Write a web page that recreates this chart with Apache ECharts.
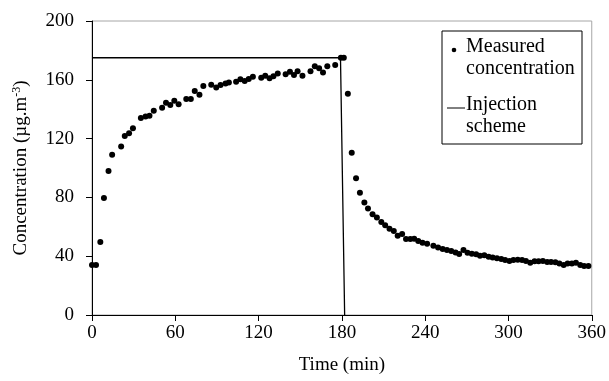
<!DOCTYPE html>
<html>
<head>
<meta charset="utf-8">
<script src="https://cdn.jsdelivr.net/npm/echarts@6/dist/echarts.min.js"></script>
<style>
  html, body { margin: 0; padding: 0; background: #fff; }
  #chart { width: 609px; height: 381px; }
</style>
</head>
<body>
<div id="chart"></div>
<script>
  // measured concentration, time in min
  var measuredTime = [0, 2.9, 6, 8.6, 11.9, 14.5, 21, 23.6, 26.7, 29.5, 35.2, 38.6, 41.4, 44.5, 50.5, 53.3, 56.4, 59.3, 62.4, 67.9,
    71.2, 74, 77.4, 80.2, 85.9, 89.5, 92.6, 96.2, 98.6, 103.8, 106.9, 110, 112.9, 115.9, 121.9, 124.8, 127.9, 130.7, 133.8, 139.5,
    142.6, 145.5, 148.1, 151.6, 157.4, 160.5, 163.6, 166.4, 169.5, 175.2, 179.3, 181.4,
    184.3, 187.1, 190.2, 193, 196.2, 198.8, 202.1, 205.2, 208.4, 211.2, 214.3, 217.4, 220.2, 223.4, 226.2, 229.3, 232.1, 235,
    238.1, 241.4, 245.9, 249.3, 252.6, 255.7, 258.8, 261.9, 264.5, 267.6, 270.5, 273.6, 276.7, 279.5, 282.6, 285.7, 288.6,
    291.7, 294.8, 297.6, 300.7, 303.6, 306.7, 309.8, 312.6, 315.7, 318.8, 321.7, 324.8, 327.9, 330.7, 333.8, 336.7, 339.8,
    342.6, 345.7, 348.6, 351.7, 354.5, 357.6];
  var measuredConc = [34, 34, 49.6, 79.6, 98, 109, 114.7, 121.7, 123.7, 127, 134, 135, 135.5, 139, 141, 144.4, 142.8, 145.7, 143.3, 147,
    147, 152.3, 149.8, 155.7, 156.6, 154.8, 156.4, 157.5, 158.2, 158.7, 160.3, 159.1, 160.5, 162, 161.4, 162.8, 161, 162.5, 164.3, 163.7,
    165.5, 163.2, 165.9, 162.8, 165.9, 169.3, 167.8, 165, 169.3, 170, 175, 175,
    150.5, 110.4, 93, 83.2, 76.6, 72.5, 68.5, 66.4, 63.2, 61, 58.7, 57.1, 53.9, 55.1, 51.7, 51.7, 51.9, 50.3,
    49.2, 48.5, 47.1, 46, 44.9, 44.2, 43.5, 42.6, 41.5, 44.2, 42.4, 41.7, 41.3, 40.3, 40.6, 39.7, 39.2,
    38.6, 38.1, 37.4, 36.7, 37.4, 37.6, 37.4, 36.7, 35.6, 36.5, 36.5, 36.7, 36, 36, 35.8, 35.1, 34,
    35.1, 35.1, 35.6, 34, 33.3, 33.3];

  // injection scheme
  var injectionTime = [0, 179, 182];
  var injectionConc = [175, 175, 0];

  var xTicks = [0, 60, 120, 180, 240, 300, 360];
  var yTicks = [0, 40, 80, 120, 160, 200];

  var font = '"Liberation Serif", "Times New Roman", serif';

  var measured = [];
  for (var i = 0; i < measuredTime.length; i++) {
    measured.push([measuredTime[i], measuredConc[i]]);
  }
  var injection = [];
  for (var j = 0; j < injectionTime.length; j++) {
    injection.push([injectionTime[j], injectionConc[j]]);
  }

  var myChart = echarts.init(document.getElementById('chart'));
  var option = {
    animation: false,
    backgroundColor: '#fff',
    textStyle: { fontFamily: font, color: '#000' },
    grid: {
      left: 92, right: 17, top: 21, bottom: 66,
      show: true, borderColor: '#a6a6a6', borderWidth: 1
    },
    xAxis: {
      type: 'value',
      min: xTicks[0], max: xTicks[xTicks.length - 1], interval: 60,
      name: 'Time (min)',
      nameLocation: 'middle',
      nameGap: 41,
      nameTextStyle: { fontFamily: font, fontSize: 19, color: '#000' },
      axisLine: { show: true, lineStyle: { color: '#000', width: 1 } },
      axisTick: { show: true, length: 6, lineStyle: { color: '#000' } },
      axisLabel: { fontFamily: font, fontSize: 19, color: '#000', margin: 9 },
      splitLine: { show: false }
    },
    yAxis: {
      type: 'value',
      min: yTicks[0], max: yTicks[yTicks.length - 1], interval: 40,
      name: 'Concentration (µg.m{sup|-3})',
      nameLocation: 'middle',
      nameGap: 60,
      nameTextStyle: {
        fontFamily: font, fontSize: 19, color: '#000',
        rich: { sup: { fontFamily: font, fontSize: 12, color: '#000', padding: [0, 0, 9, 0] } }
      },
      axisLine: { show: true, lineStyle: { color: '#000', width: 1 } },
      axisTick: { show: true, length: 6, lineStyle: { color: '#000' } },
      axisLabel: { fontFamily: font, fontSize: 19, color: '#000', margin: 18 },
      splitLine: { show: false }
    },
    graphic: [
      { type: 'rect', shape: { x: 442, y: 31, width: 140, height: 113 },
        style: { fill: '#fff', stroke: '#000', lineWidth: 1 }, z: 10 },
      { type: 'circle', shape: { cx: 454, cy: 50, r: 2.3 }, style: { fill: '#000' }, z: 11 },
      { type: 'text', left: 466, top: 36, z: 11,
        style: { text: 'Measured\nconcentration', font: '20px ' + font, fill: '#000', lineHeight: 22 } },
      { type: 'line', shape: { x1: 447, y1: 108, x2: 465, y2: 108 },
        style: { stroke: '#000', lineWidth: 1 }, z: 11 },
      { type: 'text', left: 466, top: 94, z: 11,
        style: { text: 'Injection\nscheme', font: '20px ' + font, fill: '#000', lineHeight: 22 } }
    ],
    series: [
      {
        name: 'Injection scheme',
        type: 'line',
        data: injection,
        showSymbol: false,
        symbol: 'none',
        lineStyle: { color: '#000', width: 1.3 },
        z: 2
      },
      {
        name: 'Measured concentration',
        type: 'scatter',
        data: measured,
        symbol: 'circle',
        symbolSize: 6,
        itemStyle: { color: '#000', opacity: 1 },
        z: 3
      }
    ]
  };
  myChart.setOption(option);
</script>
</body>
</html>
